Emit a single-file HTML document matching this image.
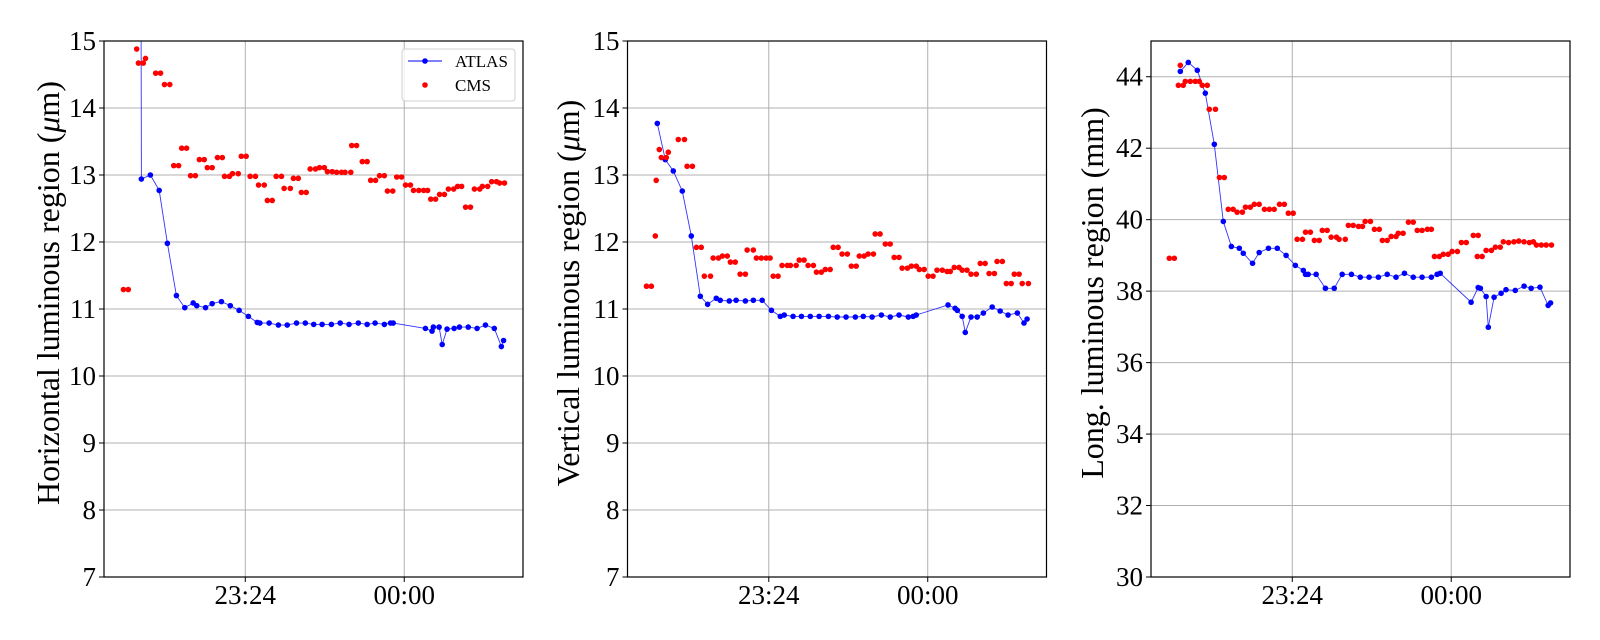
<!DOCTYPE html>
<html><head><meta charset="utf-8"><style>
html,body{margin:0;padding:0;background:#fff;}
svg{display:block;font-family:"Liberation Serif","DejaVu Serif",serif;}
</style></head><body>
<svg id="fig" width="1600" height="640" viewBox="0 0 1600 640" xmlns="http://www.w3.org/2000/svg">
<rect width="1600" height="640" fill="#fff"/>
</svg>
<script>
// ---- data (minutes after 23:00, values) ----
const xTickValues = [24, 60];
const xTickLabels = ["23:24", "00:00"];
const yTicks1 = [7,8,9,10,11,12,13,14,15];
const yTicks2 = [7,8,9,10,11,12,13,14,15];
const yTicks3 = [30,32,34,36,38,40,42,44];

const h_atlas_t = [0.1,0.46,2.5,4.5,6.35,8.4,10.3,12.2,13.0,15.0,16.5,18.6,20.6,22.6,24.7,26.7,27.3,29.4,31.5,33.5,35.6,37.6,39.5,41.4,43.5,45.5,47.5,49.6,51.6,53.4,55.5,56.9,57.5,64.8,66.3,66.6,67.9,68.6,69.7,71.3,72.5,74.5,76.5,78.4,80.4,82.0,82.5];
const h_atlas_v = [25,12.94,13.0,12.77,11.98,11.2,11.02,11.09,11.05,11.02,11.08,11.11,11.05,10.98,10.89,10.80,10.79,10.79,10.76,10.76,10.79,10.79,10.77,10.77,10.77,10.79,10.77,10.79,10.77,10.79,10.77,10.79,10.79,10.71,10.67,10.73,10.73,10.47,10.70,10.71,10.73,10.73,10.71,10.76,10.71,10.44,10.53];
const h_cms_t = [-3.6,-2.5,-0.6,-0.2,0.9,1.4,3.7,4.8,5.7,6.9,7.8,8.9,9.6,10.7,11.6,12.7,13.6,14.7,15.4,16.5,17.7,18.8,19.3,20.4,21.1,22.4,23.1,24.2,25.1,26.3,27.0,28.3,29.0,30.1,31.0,32.2,32.8,34.2,34.9,36.0,36.7,37.8,38.7,39.9,40.8,41.9,42.6,43.7,44.7,45.8,46.6,47.9,48.1,49.2,50.5,51.6,52.4,53.5,54.4,55.5,56.2,57.4,58.3,59.4,60.3,61.4,62.1,63.3,64.4,65.3,66.0,67.1,68.0,69.1,70.0,71.2,72.1,73.0,73.9,75.0,75.9,77.1,77.7,78.9,79.8,80.9,81.6,82.7];
const h_cms_v = [11.29,11.29,14.88,14.67,14.67,14.74,14.52,14.52,14.35,14.35,13.14,13.14,13.40,13.40,12.99,12.99,13.23,13.23,13.11,13.11,13.26,13.26,12.98,12.98,13.02,13.02,13.28,13.28,12.98,12.98,12.85,12.85,12.62,12.62,12.98,12.98,12.80,12.80,12.95,12.95,12.74,12.74,13.09,13.09,13.11,13.11,13.05,13.05,13.04,13.04,13.04,13.04,13.44,13.44,13.20,13.20,12.92,12.92,12.99,12.99,12.76,12.76,12.97,12.97,12.85,12.85,12.77,12.77,12.77,12.77,12.64,12.64,12.71,12.71,12.79,12.79,12.83,12.83,12.52,12.52,12.79,12.79,12.83,12.83,12.90,12.90,12.88,12.88];

const v_atlas_t = [-1.25,0.56,2.37,4.41,6.45,8.49,10.15,12.1,13.0,15.05,16.6,18.7,20.5,22.5,24.6,26.6,27.5,29.5,31.4,33.4,35.4,37.5,39.5,41.5,43.6,45.4,47.4,49.5,51.5,53.5,55.6,56.7,57.4,64.6,66.2,66.7,67.8,68.5,69.8,71.2,72.6,74.6,76.4,78.2,80.3,81.8,82.5];
const v_atlas_v = [13.77,13.23,13.06,12.76,12.09,11.19,11.07,11.16,11.13,11.12,11.13,11.12,11.13,11.13,10.98,10.89,10.91,10.89,10.89,10.89,10.89,10.89,10.88,10.88,10.88,10.89,10.88,10.91,10.88,10.91,10.88,10.89,10.91,11.06,11.01,10.98,10.89,10.65,10.88,10.88,10.94,11.03,10.97,10.91,10.94,10.79,10.85];
const v_cms_t = [-3.7,-2.6,-1.7,-1.5,-0.8,-0.34,0.79,1.24,3.5,4.9,5.5,6.7,7.6,8.7,9.4,10.8,11.4,12.6,13.5,14.6,15.3,16.4,17.5,18.7,19.1,20.5,21.2,22.3,23.4,24.3,25.0,26.1,27.0,28.2,28.9,30.2,30.9,32.0,32.9,34.1,34.8,35.9,36.8,37.9,38.6,39.7,40.6,41.8,42.7,43.8,44.5,45.6,46.5,47.7,48.1,49.2,50.4,51.5,52.4,53.5,54.2,55.4,56.3,57.4,58.1,59.2,60.1,61.2,62.1,63.3,64.4,65.1,66.0,67.1,67.8,68.9,69.8,71.0,71.9,73.0,73.9,75.1,75.7,76.9,77.8,78.9,79.6,80.7,81.4,82.8];
const v_cms_v = [11.34,11.34,12.09,12.92,13.38,13.26,13.26,13.34,13.53,13.53,13.13,13.13,11.92,11.92,11.49,11.49,11.76,11.76,11.79,11.79,11.70,11.70,11.52,11.52,11.88,11.88,11.76,11.76,11.76,11.76,11.49,11.49,11.65,11.65,11.65,11.65,11.73,11.73,11.65,11.65,11.55,11.55,11.59,11.59,11.92,11.92,11.82,11.82,11.64,11.64,11.79,11.79,11.82,11.82,12.12,12.12,11.97,11.97,11.77,11.77,11.61,11.61,11.64,11.64,11.59,11.59,11.49,11.49,11.58,11.58,11.56,11.56,11.62,11.62,11.58,11.58,11.52,11.52,11.68,11.68,11.53,11.53,11.71,11.71,11.38,11.38,11.52,11.52,11.38,11.38];

const l_atlas_t = [-1.36,0.45,2.49,4.3,6.34,8.38,10.2,12.0,12.9,15.0,16.5,18.6,20.6,22.6,24.7,26.5,27.0,27.6,29.4,31.5,33.5,35.3,37.4,39.4,41.4,43.5,45.5,47.5,49.4,51.4,53.4,55.5,56.8,57.5,64.5,66.1,66.6,67.9,68.4,69.7,71.3,72.4,74.5,76.5,78.1,80.1,81.95,82.5];
const l_atlas_v = [44.15,44.40,44.18,43.54,42.11,39.95,39.25,39.20,39.06,38.78,39.08,39.20,39.20,39.0,38.72,38.58,38.47,38.47,38.47,38.08,38.08,38.47,38.47,38.39,38.39,38.39,38.47,38.39,38.5,38.39,38.39,38.39,38.47,38.5,37.69,38.10,38.08,37.85,36.99,37.83,37.94,38.04,38.02,38.14,38.08,38.11,37.6,37.67];
const l_cms_t = [-3.85,-2.72,-1.36,-1.8,-0.7,-0.23,0.9,2.03,2.94,3.6,4.75,5.2,6.6,7.5,8.6,9.5,10.6,11.5,12.7,13.4,14.5,15.4,16.5,17.7,18.8,19.9,21.1,22.2,23.1,24.2,25.1,26.3,27.0,28.1,29.0,30.1,30.8,31.9,32.8,34.0,34.6,36.0,36.7,37.8,39.0,39.9,40.5,41.7,42.6,43.7,44.4,45.5,46.4,47.5,48.0,49.1,50.3,51.4,52.3,53.4,54.6,55.5,56.2,57.3,58.2,59.3,60.2,61.4,62.3,63.4,65.0,66.1,65.9,67.0,67.9,69.1,70.0,71.1,71.8,73.0,74.2,75.3,76.5,77.7,78.6,79.3,80.4,81.5,82.7];
const l_cms_v = [38.92,38.92,44.32,43.76,43.76,43.87,43.87,43.87,43.87,43.76,43.76,43.09,43.09,41.18,41.18,40.29,40.29,40.21,40.21,40.35,40.35,40.43,40.43,40.29,40.29,40.29,40.43,40.43,40.18,40.18,39.45,39.45,39.65,39.65,39.42,39.42,39.70,39.70,39.51,39.51,39.45,39.45,39.84,39.84,39.81,39.81,39.95,39.95,39.73,39.73,39.42,39.42,39.53,39.53,39.62,39.62,39.93,39.93,39.70,39.70,39.73,39.73,38.97,38.97,39.03,39.03,39.11,39.11,39.36,39.36,39.56,39.56,38.97,38.97,39.14,39.14,39.23,39.23,39.38,39.36,39.38,39.40,39.38,39.36,39.38,39.29,39.29,39.29,39.29];

// ---- layout ----
const NS = "http://www.w3.org/2000/svg";
const svg = document.getElementById('fig');
const TOP = 41, BOT = 577, W = 419;
const XMIN = -8, XMAX = 86.9;
function mk(tag, attrs, parent){ const e=document.createElementNS(NS,tag); for(const k in attrs) e.setAttribute(k,attrs[k]); (parent||svg).appendChild(e); return e; }

const panels = [
  {left:104, ymin:7, ymax:15, ticks:yTicks1, at:h_atlas_t, av:h_atlas_v, ct:h_cms_t, cv:h_cms_v, label:["Horizontal luminous region (","μ","m)"], lx:48, name:'horizontal'},
  {left:627.5, ymin:7, ymax:15, ticks:yTicks2, at:v_atlas_t, av:v_atlas_v, ct:v_cms_t, cv:v_cms_v, label:["Vertical luminous region (","μ","m)"], lx:568, name:'vertical'},
  {left:1151, ymin:30, ymax:45, ticks:yTicks3, at:l_atlas_t, av:l_atlas_v, ct:l_cms_t, cv:l_cms_v, label:["Long. luminous region (mm)"], lx:1092, name:'longitudinal'}
];

panels.forEach((p,i)=>{
  const xs = t => p.left + (t-XMIN)/(XMAX-XMIN)*W;
  const ys = v => BOT - (v-p.ymin)/(p.ymax-p.ymin)*(BOT-TOP);
  const g = mk('g',{});
  
  
  const cp = mk('clipPath',{id:'clip'+i}, g);
  mk('rect',{x:p.left,y:TOP,width:W,height:BOT-TOP},cp);
  // grid
  p.ticks.forEach(v=>{
    const l = mk('line',{x1:p.left,x2:p.left+W,y1:ys(v),y2:ys(v),stroke:'#b0b0b0','stroke-width':1},g);
    
    
  });
  xTickValues.forEach(t=>{
    const l = mk('line',{x1:xs(t),x2:xs(t),y1:TOP,y2:BOT,stroke:'#b0b0b0','stroke-width':1},g);
    
    
  });
  // ticks & labels
  p.ticks.forEach(v=>{
    mk('line',{x1:p.left-5,x2:p.left,y1:ys(v),y2:ys(v),stroke:'#000','stroke-width':1},g);
    const tx = mk('text',{x:p.left-8,y:ys(v)+9,'text-anchor':'end','font-size':27,fill:'#000'},g);
    tx.textContent = v;
    
    
  });
  xTickValues.forEach((t,k)=>{
    mk('line',{x1:xs(t),x2:xs(t),y1:BOT,y2:BOT+5,stroke:'#000','stroke-width':1},g);
    const tx = mk('text',{x:xs(t),y:BOT+27,'text-anchor':'middle','font-size':27,fill:'#000'},g);
    tx.textContent = xTickLabels[k];
    
    
  });
  // y label
  const yl = mk('text',{x:0,y:0,transform:`translate(${p.lx+11},293) rotate(-90)`,'text-anchor':'middle','font-size':32,fill:'#000'},g);
  
  
  p.label.forEach((s,k)=>{ const ts=mk('tspan',{},yl); if(s==='μ') ts.setAttribute('font-style','italic'); ts.textContent=s; });
  // series
  const data = mk('g',{'clip-path':`url(#clip${i})`},g);
  const pts = p.at.map((t,k)=>xs(t).toFixed(1)+','+ys(p.av[k]).toFixed(1)).join(' ');
  const pl = mk('polyline',{points:pts,fill:'none',stroke:'#0000ff','stroke-width':0.9,'stroke-opacity':0.8},data);
  
  
  p.at.forEach((t,k)=>{
    const c = mk('circle',{cx:xs(t),cy:ys(p.av[k]),r:2.8,fill:'#0000ff'},data);
    
    
  });
  p.ct.forEach((t,k)=>{
    const c = mk('circle',{cx:xs(t),cy:ys(p.cv[k]),r:2.8,fill:'#ff0000'},data);
    
    
  });
  // frame
  const fr = mk('rect',{x:p.left,y:TOP,width:W,height:BOT-TOP,fill:'none',stroke:'#000','stroke-width':1.2},g);
  
  
});

// legend
const lg = mk('g',{});


mk('rect',{x:402,y:49,width:113,height:52,rx:3,fill:'#fff','fill-opacity':0.8,stroke:'#d0d0d0','stroke-width':1},lg);
mk('line',{x1:408,x2:442,y1:61,y2:61,stroke:'#0000ff','stroke-width':0.9},lg);
mk('circle',{cx:425,cy:61,r:2.8,fill:'#0000ff'},lg);
const t1 = mk('text',{x:455,y:67,'font-size':17,fill:'#000'},lg); t1.textContent='ATLAS';


mk('circle',{cx:425,cy:85,r:2.8,fill:'#ff0000'},lg);
const t2 = mk('text',{x:455,y:91,'font-size':17,fill:'#000'},lg); t2.textContent='CMS';


</script>
</body></html>
